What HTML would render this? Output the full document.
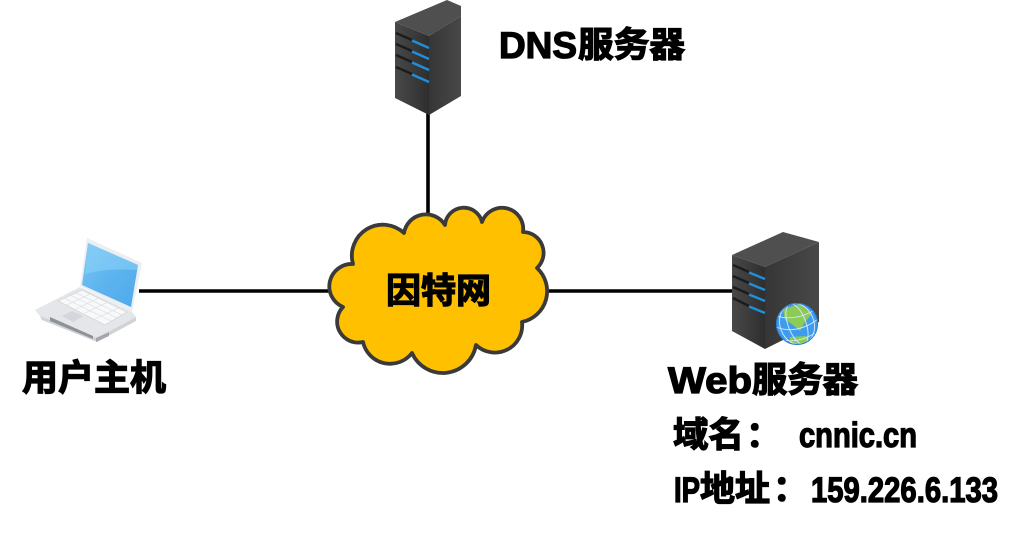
<!DOCTYPE html>
<html lang="zh">
<head>
<meta charset="utf-8">
<title>Network diagram</title>
<style>
html,body{margin:0;padding:0;background:#fff;width:1028px;height:534px;overflow:hidden}
svg{display:block}
text{font-family:"Liberation Sans","Noto Sans CJK SC",sans-serif;font-weight:700;fill:#000;stroke:#000;stroke-width:1.300px}
</style>
</head>
<body>
<svg width="1028" height="534" viewBox="0 0 1028 534" xmlns="http://www.w3.org/2000/svg">
<defs>
<linearGradient id="front" x1="0" y1="0" x2="1" y2="0">
<stop offset="0" stop-color="#484848"/><stop offset=".5" stop-color="#3c3c3c"/><stop offset="1" stop-color="#2e2e2e"/>
</linearGradient>
<linearGradient id="side" x1="0" y1="0" x2="1" y2="0">
<stop offset="0" stop-color="#363636"/><stop offset="1" stop-color="#484848"/>
</linearGradient>
<linearGradient id="scr" x1="0" y1="0" x2="1" y2="1">
<stop offset="0" stop-color="#7cc8f5"/><stop offset=".5" stop-color="#5db4ee"/><stop offset="1" stop-color="#4fa9ea"/>
</linearGradient>
<clipPath id="gc"><circle cx="797" cy="324" r="21"/></clipPath>
</defs>

<!-- connectors -->
<g stroke="#000" stroke-width="3.600" fill="none">
<line x1="139" y1="291" x2="334" y2="291"/>
<line x1="545" y1="291" x2="734" y2="291"/>
<line x1="428" y1="110" x2="428" y2="218"/>
</g>

<!-- cloud -->
<path d="M353 264 A31 31 0 0 1 404 233 A22.300 22.300 0 0 1 445 225 A18.800 18.800 0 0 1 482 222 A21.200 21.200 0 0 1 523 232 A20.800 20.800 0 0 1 537 268 A31.500 31.500 0 0 1 522 322 A27.300 27.300 0 0 1 476 345 A33.700 33.700 0 0 1 412 353 A27.700 27.700 0 0 1 363 342 A21 21 0 0 1 343 307 A22.400 22.400 0 0 1 353 264 Z" fill="#ffc000" stroke="#3a3a3a" stroke-width="3.800" stroke-linejoin="round"/>
<text x="386" y="303" font-size="35" textLength="105" lengthAdjust="spacingAndGlyphs">因特网</text>

<!-- DNS server -->
<g>
<polygon points="395,22 447,0 461,6 461,16 429,36" fill="#4f4f4f"/>
<polygon points="395,22 429,36 429,115 395,98" fill="url(#front)"/>
<polygon points="429,36 461,16 461,96 429,115" fill="url(#side)"/>
<g stroke-width="2.400" fill="none">
<path d="M396 33 L412 40" stroke="#1c1c1c"/><path d="M412 40.500 L429 48" stroke="#1f8fdc"/>
<path d="M396 44 L412 51" stroke="#1c1c1c"/><path d="M412 51.500 L429 59" stroke="#1f8fdc"/>
<path d="M396 55 L412 62" stroke="#1c1c1c"/><path d="M412 62.500 L429 70" stroke="#1f8fdc"/>
<path d="M396 67 L412 74" stroke="#1c1c1c"/><path d="M412 74.500 L429 82" stroke="#1f8fdc"/>
</g>
</g>

<!-- Web server -->
<g>
<polygon points="732,255 783,232 819,242 765,267" fill="#4f4f4f"/>
<polygon points="732,255 765,267 765,349 732,331" fill="url(#front)"/>
<polygon points="765,267 819,242 819,322 765,349" fill="url(#side)"/>
<g stroke-width="2.400" fill="none">
<path d="M733 265 L749 272" stroke="#1c1c1c"/><path d="M749 272.500 L765 279" stroke="#1f8fdc"/>
<path d="M733 276 L749 283" stroke="#1c1c1c"/><path d="M749 283.500 L765 290" stroke="#1f8fdc"/>
<path d="M733 287 L749 294" stroke="#1c1c1c"/><path d="M749 294.500 L765 301" stroke="#1f8fdc"/>
<path d="M733 298 L749 306" stroke="#1c1c1c"/><path d="M749 306.500 L765 313" stroke="#1f8fdc"/>
</g>
<circle cx="797" cy="324" r="21" fill="#3f9bee"/>
<g clip-path="url(#gc)">
<path d="M783 309 L800 304 L812 314 L805 322 L800 331 L793 325 L785 320 Z" fill="#8ccb55"/>
<path d="M790 337 L806 336 L815 346 L790 346 Z" fill="#8ccb55"/>
<g stroke="#d5e9fb" stroke-width=".9" fill="none">
<ellipse cx="797" cy="324" rx="9" ry="21" transform="rotate(-20 797 324)"/>
<ellipse cx="797" cy="324" rx="17" ry="21" transform="rotate(-20 797 324)"/>
<path d="M776 316 Q797 322 818 308"/><path d="M776 327 Q797 335 818 319"/><path d="M778 338 Q797 346 818 331"/>
</g>
</g>
<circle cx="797" cy="324" r="20.500" fill="none" stroke="#2a7fd0" stroke-width="1"/>
</g>

<!-- Laptop -->
<g>
<polygon points="35,310 80,287 132,312 136,317 97,338 40,316" fill="#e4e6e9"/>
<polygon points="40,316 97,338 136,317 136,321 97,342 42,320" fill="#cfd2d6"/>
<polygon points="50,317 93,336 93,339 50,321" fill="#8e9296"/>
<polygon points="87,238 142,263 132,312 80,286" fill="#eceef1"/>
<polygon points="88,243 138,265 131,307 82,285" fill="url(#scr)"/>
<path d="M88 243 L138 265 L137 270 Q105 268 85 274 Z" fill="#8ed2f7" opacity=".55"/>
<polygon points="58,301 82,290 127,312 105,325" fill="#f8f9fa" stroke="#d3d6da" stroke-width=".8"/>
<g stroke="#dfe2e5" stroke-width=".7" fill="none">
<path d="M64 298 L111 321"/><path d="M70 295 L117 318"/><path d="M76 293 L122 315"/>
<path d="M67 305 L90 294"/><path d="M76 309 L99 298"/><path d="M85 313 L108 302"/><path d="M95 319 L118 308"/>
</g>
<polygon points="62,316 72,311 83,316 73,322" fill="#d3d6da"/>
<polygon points="96,338 109,332 109,336 96,342" fill="#a4a8ac"/>
</g>

<!-- labels -->
<text x="499" y="58" font-size="37" textLength="78" lengthAdjust="spacingAndGlyphs">DNS</text>
<text x="578" y="57" font-size="35" textLength="107" lengthAdjust="spacingAndGlyphs">服务器</text>
<text x="22" y="390" font-size="36" textLength="144" lengthAdjust="spacingAndGlyphs">用户主机</text>
<text x="668" y="393" font-size="37" textLength="84" lengthAdjust="spacingAndGlyphs">Web</text>
<text x="752" y="392" font-size="35" textLength="106" lengthAdjust="spacingAndGlyphs">服务器</text>
<text x="673" y="447" font-size="35" textLength="71" lengthAdjust="spacingAndGlyphs">域名</text>
<text x="746" y="447" font-size="35">：</text>
<text x="799" y="447" font-size="35" textLength="118" lengthAdjust="spacingAndGlyphs">cnnic.cn</text>
<text x="674" y="502" font-size="35" textLength="26" lengthAdjust="spacingAndGlyphs">IP</text>
<text x="700" y="501" font-size="35" textLength="70" lengthAdjust="spacingAndGlyphs">地址</text>
<text x="773" y="501" font-size="35">：</text>
<text x="811" y="502" font-size="35" textLength="187" lengthAdjust="spacingAndGlyphs">159.226.6.133</text>
</svg>
</body>
</html>
